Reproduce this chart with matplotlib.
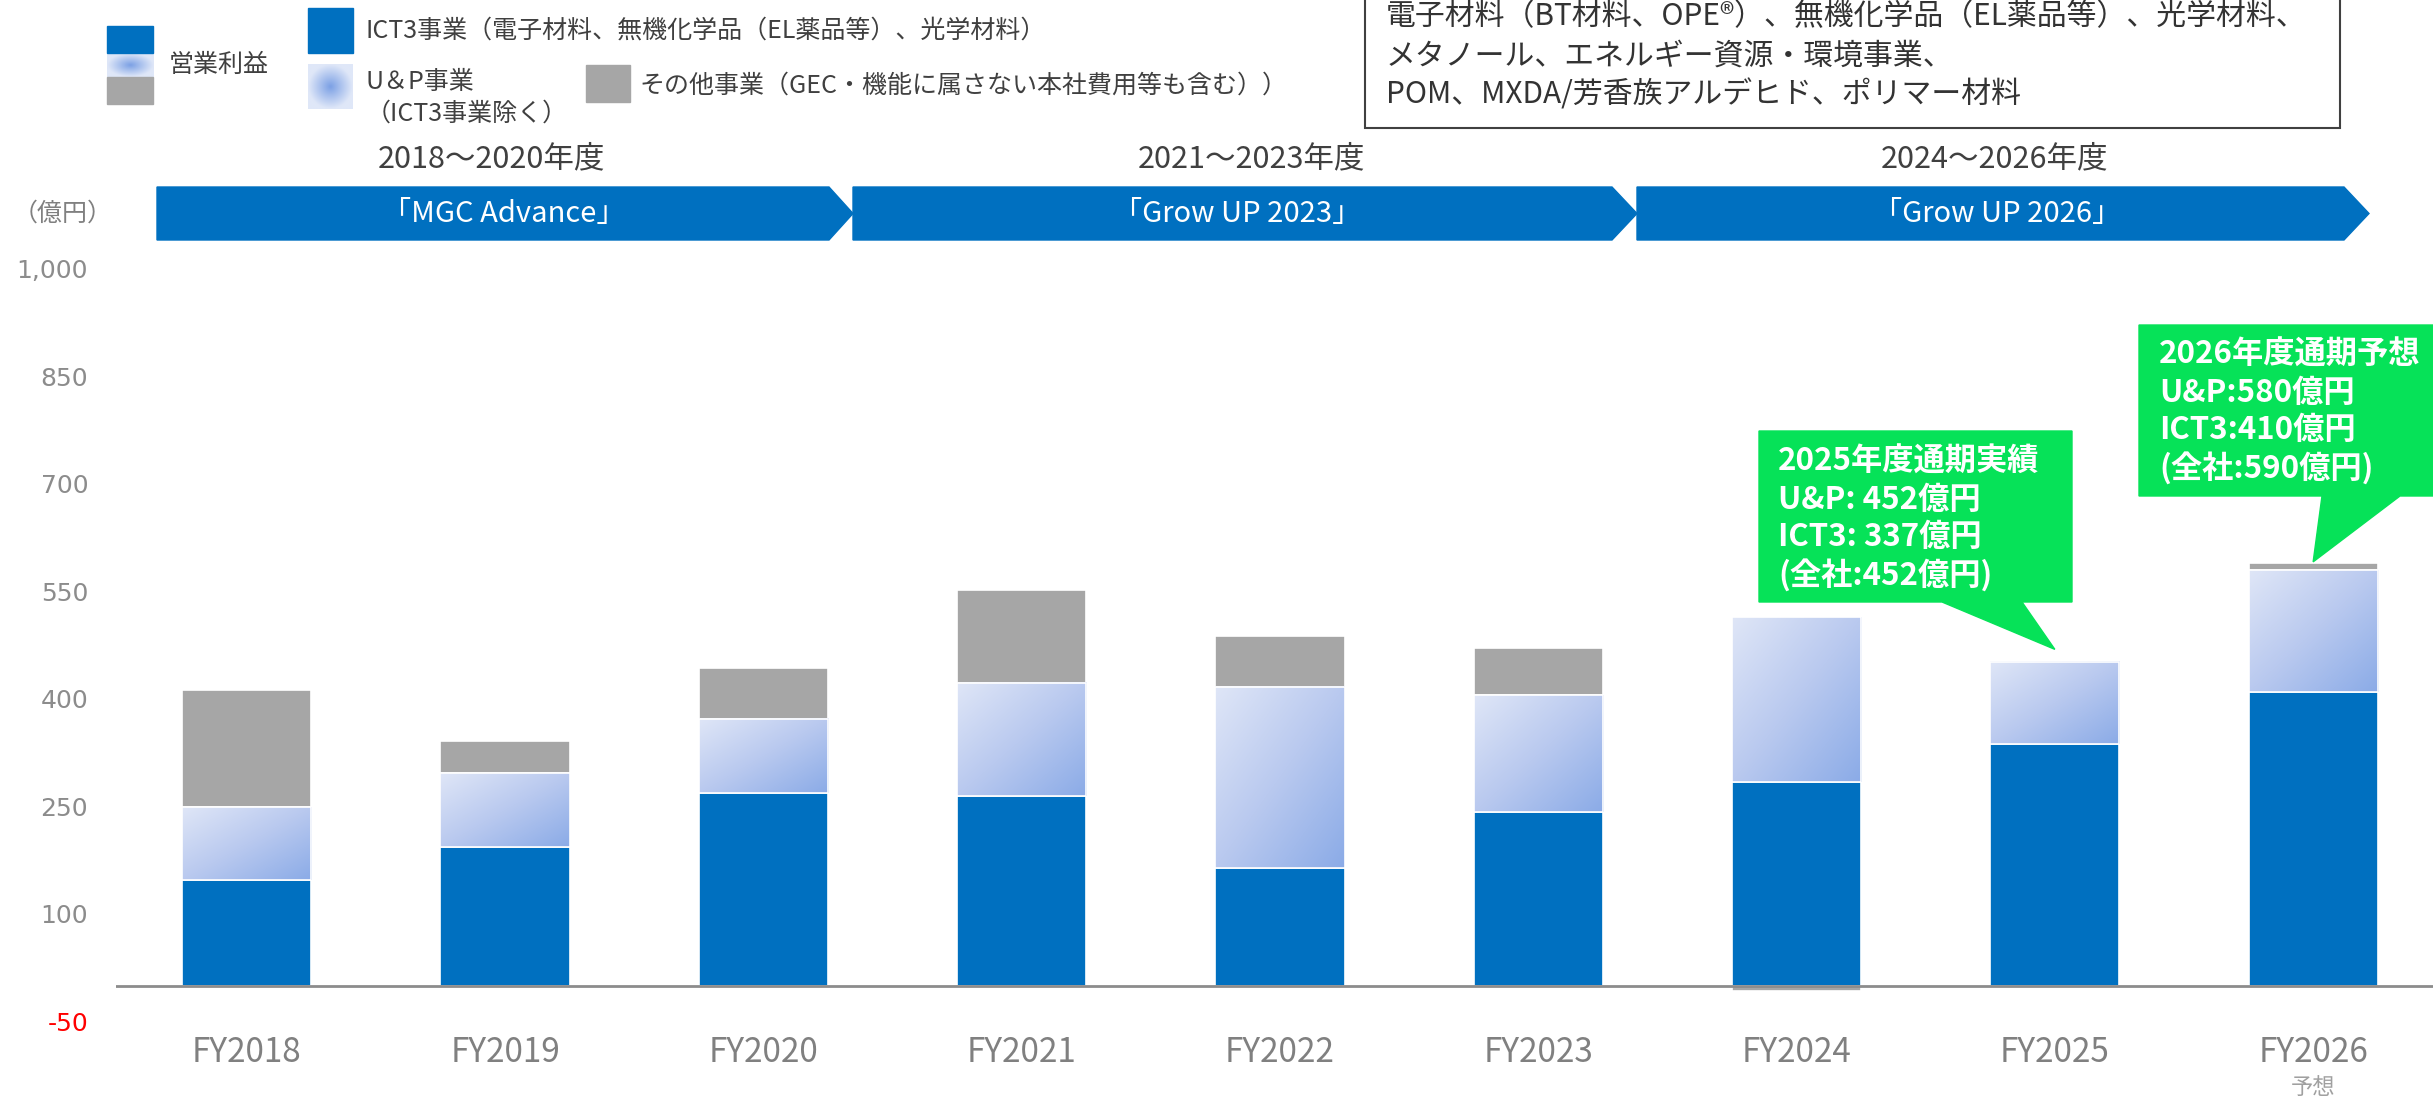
import numpy as np
import matplotlib
matplotlib.use("Agg")
import matplotlib.pyplot as plt
from matplotlib.patches import Polygon, Rectangle
from matplotlib.colors import LinearSegmentedColormap
from matplotlib import transforms

plt.rcParams['font.family'] = ['Noto Sans CJK JP', 'DejaVu Sans']

# data (億円)
years = ['FY2018', 'FY2019', 'FY2020', 'FY2021', 'FY2022', 'FY2023', 'FY2024', 'FY2025', 'FY2026']
ict3 = [148, 194, 268, 264, 164, 242, 284, 337, 410]
up_ex = [101, 102, 104, 158, 253, 163, 230, 115, 170]   # U&P excluding ICT3
other = [163, 45, 71, 130, 71, 66, -8, 0, 10]
yticks = [-50, 100, 250, 400, 550, 700, 850, 1000]

periods = ['2018～2020年度', '2021～2023年度', '2024～2026年度']
plans = ['「MGC Advance」', '「Grow UP 2023」', '「Grow UP 2026」']

BLUE = '#0070C0'
GRAY = '#A6A6A6'
GREEN = '#06E258'
TXT = '#404040'

grad_cmap = LinearSegmentedColormap.from_list('up', ['#dfe6f7', '#b9c9ef', '#8babe7'])
rad_cmap = LinearSegmentedColormap.from_list('uprad', ['#7ea2e5', '#dfe7f8'])

W, H = 2433, 1099
fig = plt.figure(figsize=(W / 100, H / 100), dpi=100)


def fx(x):
    return x / W


def fy(y):
    return 1 - y / H


ax = fig.add_axes([fx(116), fy(1021.5), 1 - fx(116), fy(268.6) - fy(1021.5)])
x = np.arange(len(years))
bw = 0.5

ict3 = np.array(ict3)
up_ex = np.array(up_ex)
other = np.array(other)

ax.bar(x, ict3, bw, color=BLUE, edgecolor='white', linewidth=1.2, zorder=2)
up_bars = ax.bar(x, up_ex, bw, bottom=ict3, color='none', edgecolor='white', linewidth=1.2, zorder=3)
oth_bottom = np.where(other >= 0, ict3 + up_ex, 0)
ax.bar(x, other, bw, bottom=oth_bottom, color=GRAY, edgecolor='white', linewidth=1.2, zorder=2)

# diagonal gradient fill for U&P segments
gx, gy = np.meshgrid(np.linspace(0, 1, 80), np.linspace(0, 1, 80))
tgrad = (gx + (1 - gy)) / 2
for r in up_bars:
    x0, y0, w, h = r.get_x(), r.get_y(), r.get_width(), r.get_height()
    if h <= 0:
        continue
    ax.imshow(tgrad, extent=(x0, x0 + w, y0, y0 + h), origin='lower', cmap=grad_cmap,
              aspect='auto', zorder=2.5, interpolation='bilinear')

ax.axhline(0, color='#8c8c8c', lw=2, zorder=4)
ax.set_xlim(-0.506, 8.464)
ax.set_ylim(-50, 1000)
for s in ax.spines.values():
    s.set_visible(False)
ax.set_yticks(yticks)
ax.set_yticklabels([f'{v:,}' for v in yticks], family='DejaVu Sans', fontsize=18, color='#8c8c8c')
ax.get_yticklabels()[0].set_color('#ff0000')
ax.set_xticks(x)
ax.set_xticklabels(years, fontsize=24, color='#808080')
ax.tick_params(axis='y', length=0, pad=20)
ax.tick_params(axis='x', length=0, pad=10)

bt = transforms.blended_transform_factory(ax.transData, fig.transFigure)
ax.text(8, fy(1088), '予想', transform=bt, ha='center', va='center', fontsize=16, color='#a0a0a0')

# legend
fig.patches.append(Rectangle((fx(107), fy(53)), fx(46), fy(26) - fy(53), transform=fig.transFigure, color=BLUE))
fig.patches.append(Rectangle((fx(107), fy(104)), fx(46), fy(77) - fy(104), transform=fig.transFigure, color=GRAY))
fig.patches.append(Rectangle((fx(308), fy(53)), fx(45), fy(8) - fy(53), transform=fig.transFigure, color=BLUE))
fig.patches.append(Rectangle((fx(586), fy(102)), fx(44), fy(65) - fy(102), transform=fig.transFigure, color=GRAY))

rr = np.hypot(*np.meshgrid(np.linspace(-1, 1, 60), np.linspace(-1, 1, 60)))
for (lx, ty, lw_, lh) in [(107, 53, 46, 24), (308, 64, 45, 45)]:
    sw = fig.add_axes([fx(lx), fy(ty + lh), fx(lw_), fy(ty) - fy(ty + lh)])
    sw.imshow(np.clip(rr, 0, 1), cmap=rad_cmap, aspect='auto', interpolation='bilinear')
    sw.axis('off')

LG = 18
fig.text(fx(169), fy(65), '営業利益', fontsize=LG, color=TXT, va='center')
fig.text(fx(366), fy(31), 'ICT3事業（電子材料、無機化学品（EL薬品等）、光学材料）', fontsize=LG, color=TXT, va='center')
fig.text(fx(366), fy(82), 'U＆P事業', fontsize=LG, color=TXT, va='center')
fig.text(fx(366), fy(114), '（ICT3事業除く）', fontsize=LG, color=TXT, va='center')
fig.text(fx(639), fy(86), 'その他事業（GEC・機能に属さない本社費用等も含む））', fontsize=LG, color=TXT, va='center')

# top-right box
fig.patches.append(Rectangle((fx(1365), fy(128)), fx(975), fy(-5) - fy(128), transform=fig.transFigure,
                             facecolor='white', edgecolor='#404040', lw=1.5))
box_lines = ['電子材料（BT材料、OPE®）、無機化学品（EL薬品等）、光学材料、',
             'メタノール、エネルギー資源・環境事業、',
             'POM、MXDA/芳香族アルデヒド、ポリマー材料']
for ly, s in zip([17, 56, 95], box_lines):
    fig.text(fx(1386), fy(ly), s, fontsize=21.5, color='#333333', va='center')

# period arrows
arrows = [(157, 829, 853), (853, 1612, 1637), (1637, 2344, 2369)]
centers = [504, 1237, 1997]
label_c = [491, 1251, 1994]
top, bot = 187, 240
for (l, f, t), c, lc, per, pl in zip(arrows, centers, label_c, periods, plans):
    pts = [(l, top), (f, top), (t, (top + bot) / 2), (f, bot), (l, bot)]
    fig.patches.append(Polygon([(fx(a), fy(b)) for a, b in pts], closed=True,
                               transform=fig.transFigure, color=BLUE))
    fig.text(fx(c), fy(214), pl, fontsize=21, color='white', ha='center', va='center')
    fig.text(fx(lc), fy(159), per, fontsize=22, color=TXT, ha='center', va='center')

fig.text(fx(13), fy(214), '（億円）', fontsize=18, color='#808080', va='center')

# callouts
totals = ict3 + up_ex + np.maximum(other, 0)


def callout(box, base, tip_data, lines, tx, ly0):
    l, t, r, b = box
    tip = ax.transData.transform(tip_data)
    tpx = (tip[0], H - tip[1])
    pts = [(l, t), (r, t), (r, b), (base[1], b), tpx, (base[0], b), (l, b)]
    fig.patches.append(Polygon([(fx(a), fy(c)) for a, c in pts], closed=True,
                               transform=fig.transFigure, color=GREEN))
    for i, s in enumerate(lines):
        fig.text(fx(tx), fy(ly0 + i * 37.7), s, fontsize=22.5, fontweight='bold', color='white', va='center')


callout((1759, 431, 2072, 602), (1942, 2022), (7, totals[7] + 17),
        ['2025年度通期実績', 'U&P: 452億円', 'ICT3: 337億円', '(全社:452億円)'], 1778, 462)
callout((2139, 325, 2440, 496), (2322, 2400), (8, totals[8] + 1),
        ['2026年度通期予想', 'U&P:580億円', 'ICT3:410億円', '(全社:590億円)'], 2159, 355)

fig.savefig('out.png', dpi=100)
